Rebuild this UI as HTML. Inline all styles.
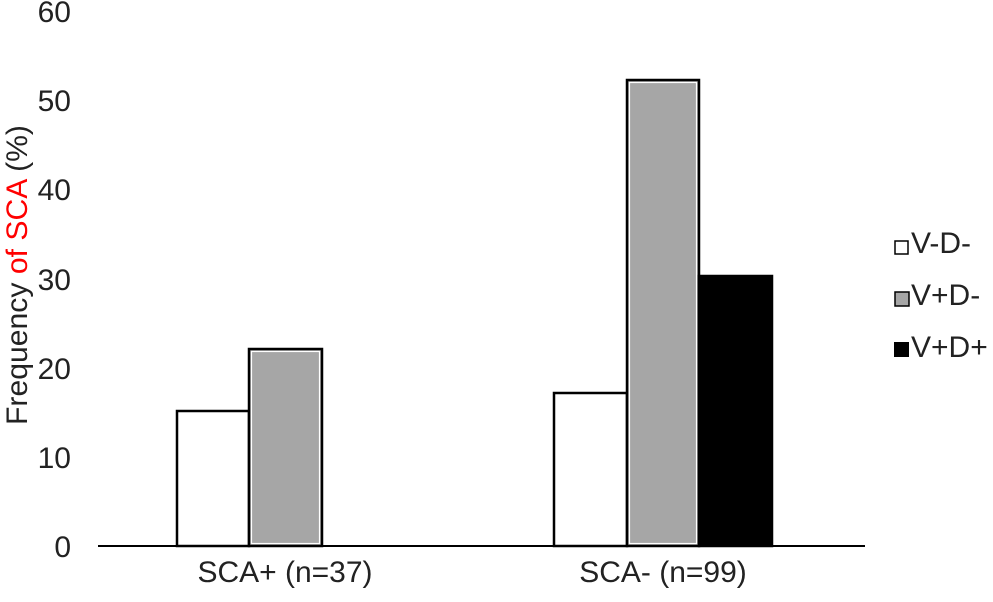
<!DOCTYPE html><html><head><style>body{margin:0;background:#fff}</style></head><body>
<svg width="993" height="597" xmlns="http://www.w3.org/2000/svg" font-family="Liberation Sans, sans-serif" fill="#000">
<g font-size="30" text-anchor="end" fill="#222">
<text x="71" y="22">60</text><text x="71" y="111">50</text><text x="71" y="200">40</text><text x="71" y="290">30</text><text x="71" y="379">20</text><text x="71" y="468">10</text><text x="71" y="557">0</text>
</g>
<text transform="translate(27,275) rotate(-90)" font-size="30" text-anchor="middle" textLength="300" lengthAdjust="spacingAndGlyphs" fill="#222">Frequency <tspan fill="#ff0000">of SCA</tspan> (%)</text>
<g stroke="#000" stroke-width="2.5">
<rect x="177" y="411" width="72" height="135" fill="#fff"/>
<rect x="249" y="349" width="73" height="197" fill="#a6a6a6"/>
<rect x="554" y="393" width="73" height="153" fill="#fff"/>
<rect x="627" y="80" width="72" height="466" fill="#a6a6a6"/>
<rect x="699" y="276" width="73" height="270" fill="#000"/>
</g>
<g fill="none" stroke="#fff" stroke-width="1.2">
<rect x="251.5" y="351.5" width="68" height="192"/>
<rect x="629.5" y="82.5" width="67" height="461"/>
</g>
<line x1="98" y1="546" x2="865" y2="546" stroke="#000" stroke-width="2"/>
<g font-size="30" text-anchor="middle" fill="#222">
<text x="285" y="582">SCA+ (n=37)</text><text x="663" y="582">SCA- (n=99)</text>
</g>
<rect x="895" y="241" width="13" height="13" fill="#fff" stroke="#000" stroke-width="1.5"/>
<rect x="895" y="292" width="14" height="14" fill="#a6a6a6" stroke="#000" stroke-width="1.5"/>
<rect x="894" y="342" width="15" height="15" fill="#000"/>
<g font-size="30" fill="#222"><text x="911" y="253">V-D-</text><text x="911" y="305">V+D-</text><text x="911" y="357">V+D+</text></g>
</svg></body></html>
